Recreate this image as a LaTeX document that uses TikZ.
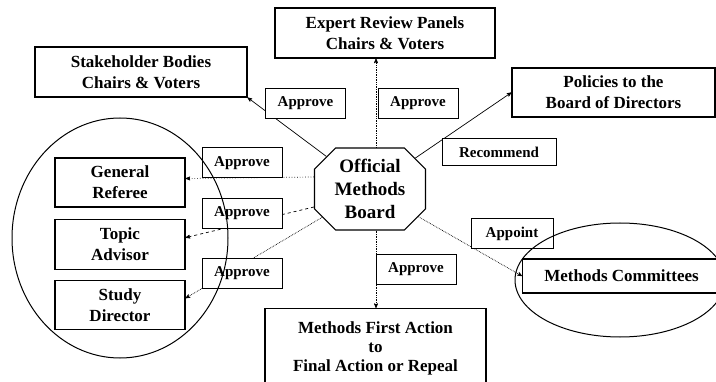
\documentclass[tikz,border=0pt]{standalone}
\usepackage{fontspec}
\setmainfont{Liberation Serif}
\usetikzlibrary{arrows, positioning, shapes.misc}

\begin{document}
\begin{tikzpicture}[x=1pt,y=1pt,>=stealth',
  box/.style={draw, line width=1.1pt, fill=white, align=center, inner sep=0pt,
    font=\fontsize{17}{21}\selectfont\bfseries},
  tag/.style={draw, line width=1pt, fill=white, inner sep=0pt,
    minimum width=80pt, minimum height=30pt,
    font=\fontsize{15}{18}\selectfont\bfseries},
  link/.style={->, line width=0.7pt},
  group/.style={line width=1pt}]

  \useasboundingbox (0,0) rectangle (716,381);
  \clip (0,0) rectangle (716,381);

% the board and the bodies round it
  \node[draw, line width=1.1pt, chamfered rectangle, chamfered rectangle xsep=18pt,
        minimum width=111pt, minimum height=82pt, inner sep=0pt, align=center,
        font=\fontsize{19}{23}\selectfont\bfseries]  (board)  at (370,192)
{Official\\Methods\\Board};
  \node[box, minimum width=220pt, minimum height=50pt]   (expert)   at (385,348)
{Expert Review Panels\\Chairs \& Voters};
  \node[box, minimum width=212pt, minimum height=50pt]   (stake)   at (141,309)
{Stakeholder Bodies\\Chairs \& Voters};
  \node[box, minimum width=203pt, minimum height=49pt]   (policies)   at (613.5,288.5)
{Policies to the\\Board of Directors};
  \node[box, minimum width=130pt, minimum height=49pt]   (referee)   at (120,198.5)
{General\\Referee};
  \node[box, minimum width=130pt, minimum height=50pt]   (advisor)   [below=11pt of referee]
{Topic\\Advisor};
  \node[box, minimum width=130pt, minimum height=49pt]   (director)   [below=10pt of advisor]
{Study\\Director};
  \node[box, minimum width=221pt, minimum height=80pt, anchor=north,
        font=\fontsize{17}{19}\selectfont\bfseries]   (first)   at (375.5,73)
{Methods First Action\\to\\Final Action or Repeal};
  \node[box, minimum width=198pt, minimum height=34pt, anchor=west]   (committees)   at (522,105)
{Methods Committees};

% define the links
  \draw[link] (board) -- (stake.south east);
  \draw[link] (board) -- (policies.west);
  \draw[link, densely dotted] ([xshift=6pt]board.north) -- ([xshift=6pt]board.north |- expert.south);
  \draw[link, densely dotted] ([xshift=6pt]board.south) -- ([xshift=6pt]board.south |- first.north);
  \draw[link, densely dotted] (board) -- (committees.west);
  \draw[link, dotted] ([yshift=12pt]board.west) -- ([yshift=4pt]referee.east);
  \draw[link, dashed] ([yshift=-18pt]board.west) -- ([yshift=6.5pt]advisor.east);
  \draw[link, densely dotted] (board) -- ([yshift=6.5pt]director.east);

% labels on the links
  \node[tag]   (apStake)   at (305.5,277.5)   {Approve};
  \node[tag]   (apExpert)   at (418,277.5)   {Approve};
  \node[tag]   (apReferee)   at (242,218)   {Approve};
  \node[tag]   (apAdvisor)   at (242,167.5)   {Approve};
  \node[tag]   (apDirector)   at (242,108)   {Approve};
  \node[tag, minimum width=114pt, minimum height=27pt]   (recommend)   at (499,228.5)   {Recommend};
  \node[tag, minimum width=82pt]   (appoint)   at (512,147)   {Appoint};
  \node[tag]   (apFirst)   at (416,112)   {Approve};

% the two groups
  \draw[group] (120,143) ellipse [x radius=108, y radius=120];
  \draw[group] (620,101) ellipse [x radius=105, y radius=57];

\end{tikzpicture}
\end{document}
